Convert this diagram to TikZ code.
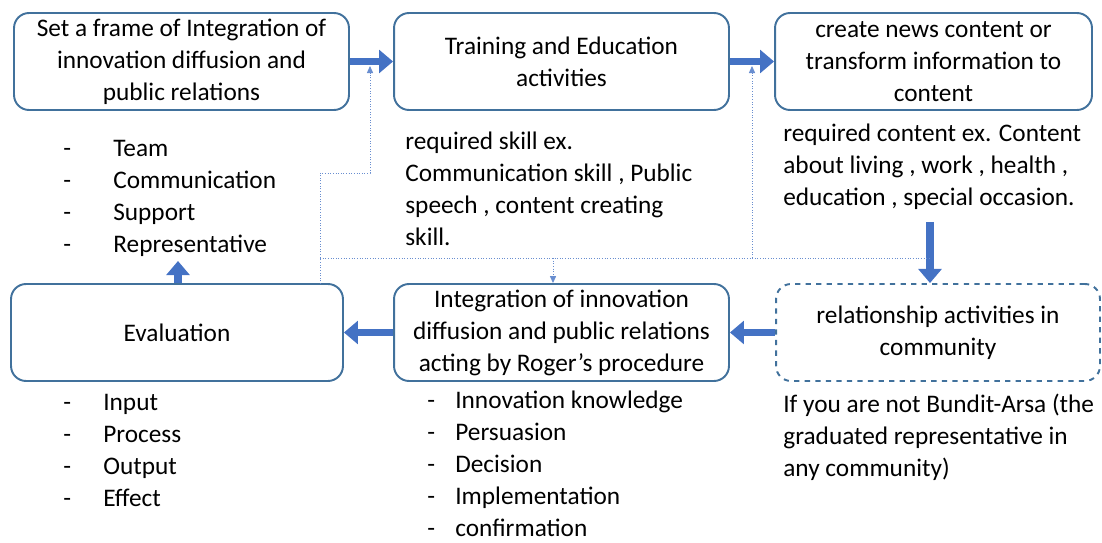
\documentclass[tikz,border=0pt]{standalone}
\usepackage{fontspec}
\setmainfont{Carlito}
\usetikzlibrary{arrows.meta}

\definecolor{boxline}{HTML}{41719C}
\definecolor{arrblue}{HTML}{4472C4}

\tikzset{
  stagebox/.style={draw=boxline, line width=1.1pt, rounded corners=0.3cm,
    minimum width=6.7cm, minimum height=1.94cm, align=center, inner sep=2pt},
  bigarrow/.style={draw=arrblue, line width=4pt,
    -{Triangle[width=13pt,length=8pt]}},
  fbline/.style={draw=arrblue!80, densely dotted, line width=0.5pt},
  fbarrow/.style={fbline, -{Triangle[width=3.5pt,length=4pt]}},
  notes/.style={anchor=north west, align=left, inner sep=0pt}
}
\newcommand{\dashitem}[1]{\makebox[#1][l]{-}}

\begin{document}
\begin{tikzpicture}[x=0.02cm, y=-0.02cm, font=\fontsize{14.4}{18.2}\selectfont]
    \useasboundingbox (0,0) rectangle (1102,543);
    % Top row
    \node[stagebox] (frame) at (181.5,61.5) {Set a frame of Integration of\\innovation diffusion and\\public relations};
    \node[stagebox] (train) at (561.5,61.5) {Training and Education\\activities};
    \node[stagebox, minimum width=6.34cm] (news) at (933.5,61.5) {create news content or\\transform information to\\content};
    % Bottom row
    \node[stagebox, minimum width=6.64cm] (eval) at (177,332.5) {Evaluation};
    \node[stagebox] (integ) at (561.5,332.5) {Integration of innovation\\diffusion and public relations\\acting by Roger's procedure};
    \node[stagebox, dashed, minimum width=6.48cm] (relate) at (938,332.5) {relationship activities in\\community};
    % Notes
    \node[notes] (teamlist) at (63,140) {\dashitem{1cm}Team\\\dashitem{1cm}Communication\\\dashitem{1cm}Support\\\dashitem{1cm}Representative};
    \node[notes] (skill) at (405,132) {required skill ex.\\Communication skill , Public\\speech , content creating\\skill.};
    \node[notes] (content) at (783,124) {required content ex. Content\\about living , work , health ,\\education , special occasion.};
    \node[notes] (evallist) at (63,394) {\dashitem{0.8cm}Input\\\dashitem{0.8cm}Process\\\dashitem{0.8cm}Output\\\dashitem{0.8cm}Effect};
    \node[notes] (steplist) at (427,391) {\dashitem{0.56cm}Innovation knowledge\\\dashitem{0.56cm}Persuasion\\\dashitem{0.56cm}Decision\\\dashitem{0.56cm}Implementation\\\dashitem{0.56cm}confirmation};
    \node[notes] (bundit) at (783,394) {If you are not Bundit-Arsa (the\\graduated representative in\\any community)};
    % Main flow
    \coordinate (downstart) at (930,222);
    \coordinate (uptip) at (178,261);
    \draw[bigarrow] (frame) -- (train);
    \draw[bigarrow] (train) -- (news);
    \draw[bigarrow] (downstart) -- (downstart |- relate.north);
    \draw[bigarrow] (relate) -- (integ);
    \draw[bigarrow] (integ) -- (eval);
    \draw[bigarrow] (uptip |- eval.north) -- (uptip);
    % Feedback lines
    \coordinate (fbfoot) at (320,284);
    \coordinate (fbknee) at (320,173);
    \coordinate (fbturn) at (370,173);
    \coordinate (fbtopa) at (370,66);
    \coordinate (hubl) at (320,258);
    \coordinate (hubr) at (930,258);
    \coordinate (hubmid) at (553,258);
    \coordinate (hubnews) at (752,258);
    \coordinate (fbtopb) at (752,66);
    \draw[fbarrow] (fbfoot) -- (fbknee) -- (fbturn) -- (fbtopa);
    \draw[fbline] (hubl) -- (hubr);
    \draw[fbarrow] (hubmid) -- (hubmid |- integ.north);
    \draw[fbarrow] (hubnews) -- (fbtopb);
\end{tikzpicture}
\end{document}
